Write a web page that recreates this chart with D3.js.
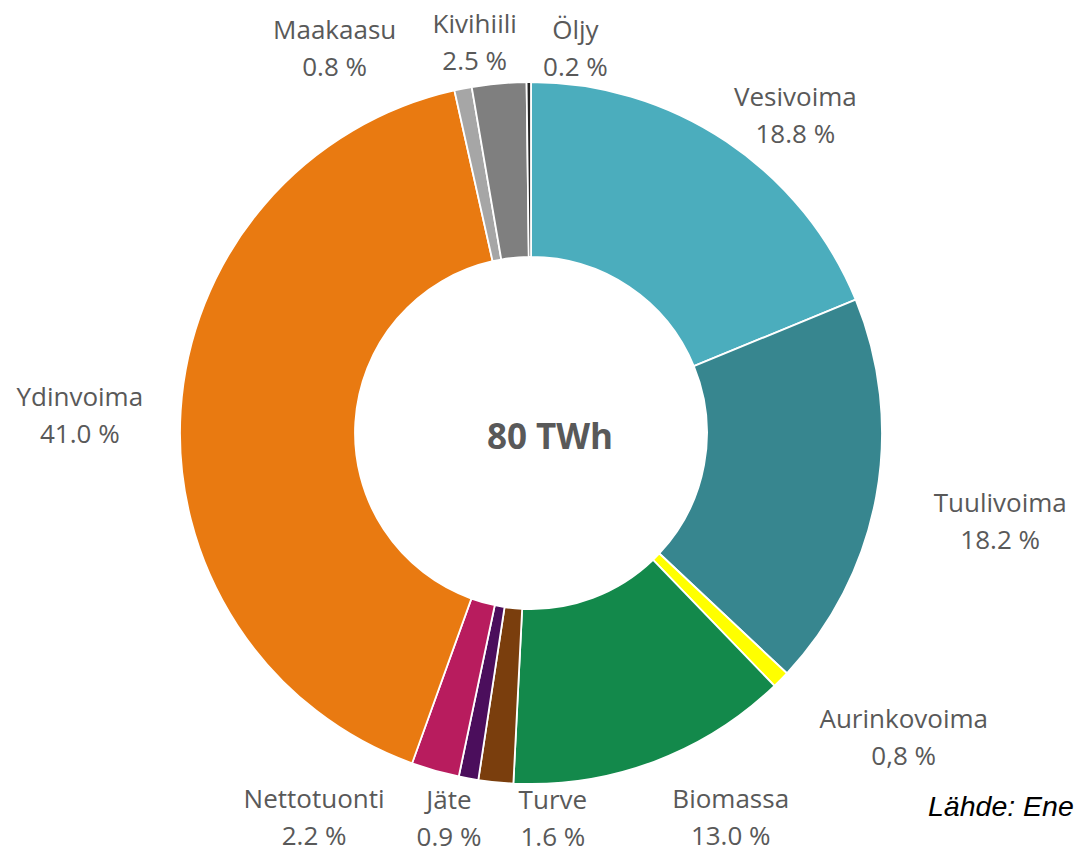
<!DOCTYPE html>
<html>
<head>
<meta charset="utf-8">
<script src="https://cdn.jsdelivr.net/npm/d3@7"></script>
<style>
  html, body { margin: 0; padding: 0; background: #ffffff; overflow: hidden; }
  svg { display: block; }
</style>
</head>
<body>
<div id="chart"></div>
<script>
// ---- Data ----
const categories = ["Vesivoima", "Tuulivoima", "Aurinkovoima", "Biomassa", "Turve", "Jäte",
                    "Nettotuonti", "Ydinvoima", "Maakaasu", "Kivihiili", "Öljy"];
const shares = [18.8, 18.2, 0.8, 13.0, 1.6, 0.9, 2.2, 41.0, 0.8, 2.5, 0.2];
const shareLabels = ["18.8 %", "18.2 %", "0,8 %", "13.0 %", "1.6 %", "0.9 %",
                     "2.2 %", "41.0 %", "0.8 %", "2.5 %", "0.2 %"];
const totalLabel = "80 TWh";
const sourceLabel = "Lähde: Ene";

// ---- Style / layout ----
const colors = ["#4BADBD", "#37868F", "#FFFF00", "#13894B", "#7A3E0D", "#4B0E5C",
                "#B81C5E", "#E97A11", "#A6A6A6", "#7F7F7F", "#262626"];
// label nudges (px) relative to the slice's mid-angle point on the label ring
const labelNudge = [[36, 23], [66, 14], [81, 16], [56, 0], [63, -23], [-9, -18],
                    [-105, -10], [-42, 8], [-117, 17], [-19, 18], [47, 25]];

const W = 1077, H = 853;
const cx = 531, cy = 433;
const outerR = 351, innerR = 176, labelR = 410;

const svg = d3.select("#chart").append("svg")
  .attr("width", W).attr("height", H)
  .attr("viewBox", `0 0 ${W} ${H}`);

svg.append("rect").attr("width", W).attr("height", H).attr("fill", "#ffffff");

const data = categories.map((c, i) => ({ name: c, value: shares[i], label: shareLabels[i], i }));

const pie = d3.pie().sort(null).value(d => d.value).startAngle(0).endAngle(2 * Math.PI);
const arcs = pie(data);

const arc = d3.arc().innerRadius(innerR).outerRadius(outerR);
const labelArc = d3.arc().innerRadius(labelR).outerRadius(labelR);

const g = svg.append("g").attr("transform", `translate(${cx},${cy})`);

g.selectAll("path.slice")
  .data(arcs)
  .join("path")
  .attr("class", "slice")
  .attr("d", arc)
  .attr("fill", d => colors[d.data.i])
  .attr("stroke", "#ffffff")
  .attr("stroke-width", 1.8)
  .attr("stroke-linejoin", "round");

// labels
const fontSize = 26;
const lineGap = 37;
const capHalf = fontSize * 0.357;

const lbl = g.selectAll("g.lbl")
  .data(arcs)
  .join("g")
  .attr("class", "lbl")
  .attr("transform", d => {
    const [x, y] = labelArc.centroid(d);
    const n = labelNudge[d.data.i];
    return `translate(${x + n[0]},${y + n[1]})`;
  });

lbl.append("text")
  .attr("text-anchor", "middle")
  .attr("y", -lineGap / 2 + capHalf)
  .attr("font-family", "'Open Sans', 'Noto Sans', sans-serif")
  .attr("font-size", fontSize)
  .attr("fill", "#595959")
  .text(d => d.data.name);

lbl.append("text")
  .attr("text-anchor", "middle")
  .attr("y", lineGap / 2 + capHalf)
  .attr("font-family", "'Open Sans', 'Noto Sans', sans-serif")
  .attr("font-size", fontSize)
  .attr("fill", "#595959")
  .text(d => d.data.label);

// center total
svg.append("text")
  .attr("x", 550)
  .attr("y", 437 + 35 * 0.357)
  .attr("text-anchor", "middle")
  .attr("font-family", "'Open Sans', 'Noto Sans', sans-serif")
  .attr("font-weight", "bold")
  .attr("font-size", 35)
  .attr("fill", "#595959")
  .text(totalLabel);

// source (cut off at the right edge in the reference)
svg.append("text")
  .attr("x", 928)
  .attr("y", 816)
  .attr("font-family", "'Liberation Sans', Arial, sans-serif")
  .attr("font-style", "italic")
  .attr("font-size", 28.5)
  .attr("fill", "#000000")
  .text(sourceLabel);
</script>
</body>
</html>
